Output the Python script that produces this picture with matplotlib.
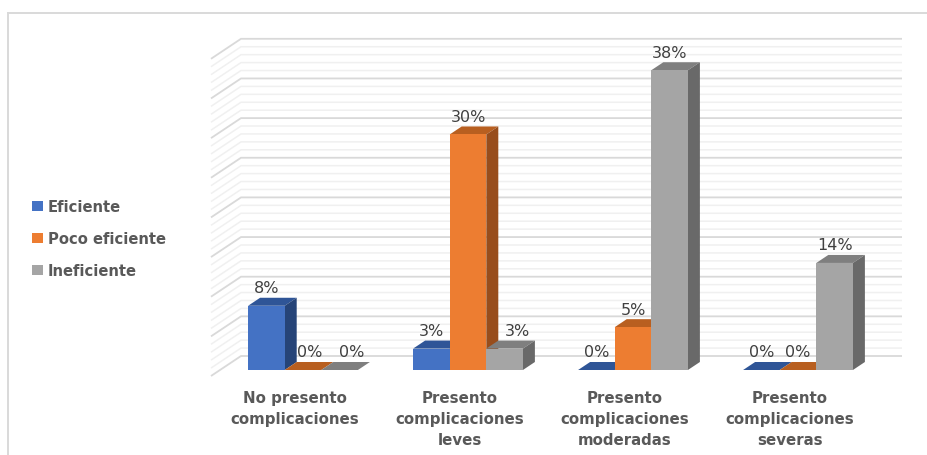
import matplotlib
matplotlib.use("Agg")
import matplotlib.pyplot as plt
from matplotlib.patches import Polygon
from matplotlib.transforms import Affine2D
from matplotlib.lines import Line2D

categories = ["No presento\ncomplicaciones", "Presento\ncomplicaciones\nleves",
              "Presento\ncomplicaciones\nmoderadas", "Presento\ncomplicaciones\nseveras"]
eficiente = [8.1, 2.7, 0.0, 0.0]
poco_eficiente = [0.0, 29.7, 5.4, 0.0]
ineficiente = [0.0, 2.7, 37.8, 13.5]
series_names = ["Eficiente", "Poco eficiente", "Ineficiente"]

W, H = 927, 456
fig = plt.figure(figsize=(W / 100, H / 100), dpi=100, facecolor="white")
def px(x0, y0, x1, y1):
    return [x0 / W, 1 - y1 / H, (x1 - x0) / W, (y1 - y0) / H]

PX_CAT = 165.0
PX_VAL = 7.93
X0 = 303.0
L, R, T, B = 211, 902, 40, 377
ax = fig.add_axes(px(L, T, R, B))
ax.patch.set_alpha(0)
ax.set_xlim((L - X0) / PX_CAT, (R - X0) / PX_CAT)
ax.set_ylim(-(B - 371) / PX_VAL, (371 - T) / PX_VAL)
for s in ax.spines.values():
    s.set_visible(False)
ax.tick_params(left=False, bottom=False, labelleft=False)

# walls: back wall lines plus the slanted lines of the side wall
wall_dx = 30 / (R - L)
wall_dy = 20 / PX_VAL
up14 = ax.get_yaxis_transform() + Affine2D().translate(0, 14)
for k in range(0, 41):
    major = k % 5 == 0
    c = "#d9d9d9" if major else "#f0f0f0"
    lw = 1.3 if major else 1.1
    z = 1.5 if major else 1
    ax.plot([0, wall_dx, 1], [k - wall_dy, k, k], color=c, lw=lw, zorder=z, clip_on=False,
            transform=up14, solid_capstyle="butt", solid_joinstyle="miter")

# bars
series = [eficiente, poco_eficiente, ineficiente]
front = ["#4472C4", "#ED7D31", "#A5A5A5"]
top = ["#2F5597", "#B85F20", "#7F7F7F"]
side = ["#264478", "#984D1C", "#696969"]
BW = 36.6 / PX_CAT
DX, DY = 12 / PX_CAT, 8 / PX_VAL
shift = {(0, 1): 7, (0, 2): 12, (1, 2): 13}
handles = []
for j, vals in enumerate(series):
    xs = [i + (j - 1) * BW for i in range(len(vals))]
    bars = ax.bar(xs, vals, width=BW, color=front[j], linewidth=0, zorder=3 + j * 0.1 + 0.05)
    handles.append(bars[0])
    for i, (x, v) in enumerate(zip(xs, vals)):
        x0, x1 = x - BW / 2, x + BW / 2
        zz = 3 + (j * 0.1)
        ax.add_patch(Polygon([(x0, v), (x1, v), (x1 + DX, v + DY), (x0 + DX, v + DY)],
                             closed=True, fc=top[j], lw=0, zorder=zz))
        if v > 0:
            ax.add_patch(Polygon([(x1, 0), (x1 + DX, DY), (x1 + DX, v + DY), (x1, v)],
                                 closed=True, fc=side[j], lw=0, zorder=zz))
        ax.annotate(f"{v:.0f}%", (x, v), xytext=(shift.get((i, j), 0) * 0.72, 18 * 0.72),
                    textcoords="offset points", ha="center", va="center",
                    fontsize=11.5, color="#404040", zorder=6)

ax.set_xticks([i - 8 / PX_CAT for i in range(len(categories))])
ax.set_xticklabels(categories, fontsize=10.8, fontweight="bold", color="#595959", linespacing=1.48)
ax.tick_params(axis="x", length=0, pad=10.2)

leg = fig.legend(handles, series_names, loc="center left", bbox_to_anchor=(32 / W, 1 - 239.5 / H),
                 frameon=False, handlelength=0.72, handleheight=0.72, handletextpad=0.36,
                 labelspacing=1.15, borderpad=0, borderaxespad=0,
                 prop={"size": 10.6, "weight": "bold"}, labelcolor="#595959")

# outer frame: left and top edges only
for xs_, ys_ in [((8, 8), (456, 14)), ((8, 927), (14, 14))]:
    fig.add_artist(Line2D([x / W for x in xs_], [1 - y / H for y in ys_], color="#d9d9d9", lw=1.4))

fig.savefig("out.png", dpi=100)
